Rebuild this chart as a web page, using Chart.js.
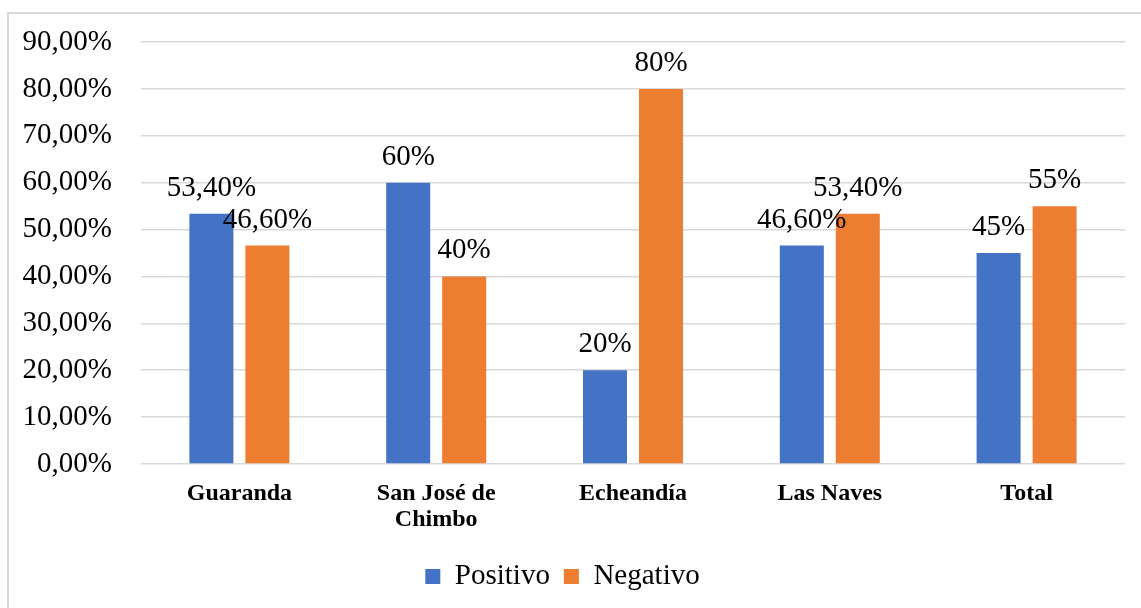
<!DOCTYPE html>
<html>
<head>
<meta charset="utf-8">
<script src="https://cdn.jsdelivr.net/npm/chart.js@4"></script>
<style>
  html, body { margin: 0; padding: 0; background: #fff; overflow: hidden; }
  #frame { position: absolute; left: 7px; top: 12px; width: 1200px; height: 700px;
           border-left: 2px solid #d9d9d9; border-top: 2px solid #d9d9d9; }
  #chart { position: absolute; left: 0; top: 0; }
</style>
</head>
<body>
<div id="frame"></div>
<canvas id="chart" width="1141" height="608"></canvas>
<script>
var categories = ["Guaranda", ["San José de", "Chimbo"], "Echeandía", "Las Naves", "Total"];
var positivo = [53.4, 60, 20, 46.6, 45];
var negativo = [46.6, 40, 80, 53.4, 55];
var yTicks = [0, 10, 20, 30, 40, 50, 60, 70, 80, 90];

const serif = "'Liberation Serif', 'Times New Roman', serif";

function pct(v) {
  // whole numbers print plain, the rest with two decimals and a comma
  if (Number.isInteger(v)) return v + "%";
  return v.toFixed(2).replace(".", ",") + "%";
}

// value labels above each bar
const barLabels = {
  id: "barLabels",
  afterDatasetsDraw(chart) {
    const ctx = chart.ctx;
    ctx.save();
    ctx.font = "29px " + serif;
    ctx.fillStyle = "#000";
    ctx.textAlign = "center";
    ctx.textBaseline = "alphabetic";
    chart.data.datasets.forEach((ds, i) => {
      chart.getDatasetMeta(i).data.forEach((bar, j) => {
        ctx.fillText(pct(ds.data[j]), bar.x, bar.y - 18);
      });
    });
    ctx.restore();
  }
};

new Chart("chart", {
  type: "bar",
  data: {
    labels: categories,
    datasets: [{
      label: "Positivo",
      data: positivo,
      backgroundColor: "#4472C4",
      borderWidth: 0,
      categoryPercentage: 0.569,
      barPercentage: 0.786
    }, {
      label: "Negativo",
      data: negativo,
      backgroundColor: "#ED7D31",
      borderWidth: 0,
      categoryPercentage: 0.569,
      barPercentage: 0.786
    }]
  },
  options: {
    responsive: false,
    animation: false,
    // the y tick padding (29) plus half a label sets the top edge at ~42
    layout: { padding: { left: 0, right: 16, top: 0, bottom: 7 } },
    plugins: {
      tooltip: { enabled: false },
      legend: {
        position: "bottom",
        labels: {
          font: { family: serif, size: 29 },
          color: "#000",
          boxWidth: 15,
          boxHeight: 15,
          padding: 14
        }
      }
    },
    scales: {
      x: {
        grid: { display: false },
        border: { display: false },
        ticks: {
          color: "#000",
          font: { family: serif, size: 24, weight: "bold", lineHeight: 1.05 },
          padding: 9.5,
          maxRotation: 0,
          autoSkip: false
        },
        afterFit(scale) { scale.height = 84; }
      },
      y: {
        min: 0,
        max: 90,
        afterBuildTicks(scale) { scale.ticks = yTicks.map(v => ({ value: v })); },
        grid: { color: "#d9d9d9", lineWidth: 1.5, drawTicks: false },
        border: { display: false },
        ticks: {
          color: "#000",
          font: { family: serif, size: 29, lineHeight: 0.9 },
          padding: 29,
          callback: v => v.toFixed(2).replace(".", ",") + "%"
        },
        afterFit(scale) { scale.width = 141; }
      }
    }
  },
  plugins: [barLabels]
});
</script>
</body>
</html>
